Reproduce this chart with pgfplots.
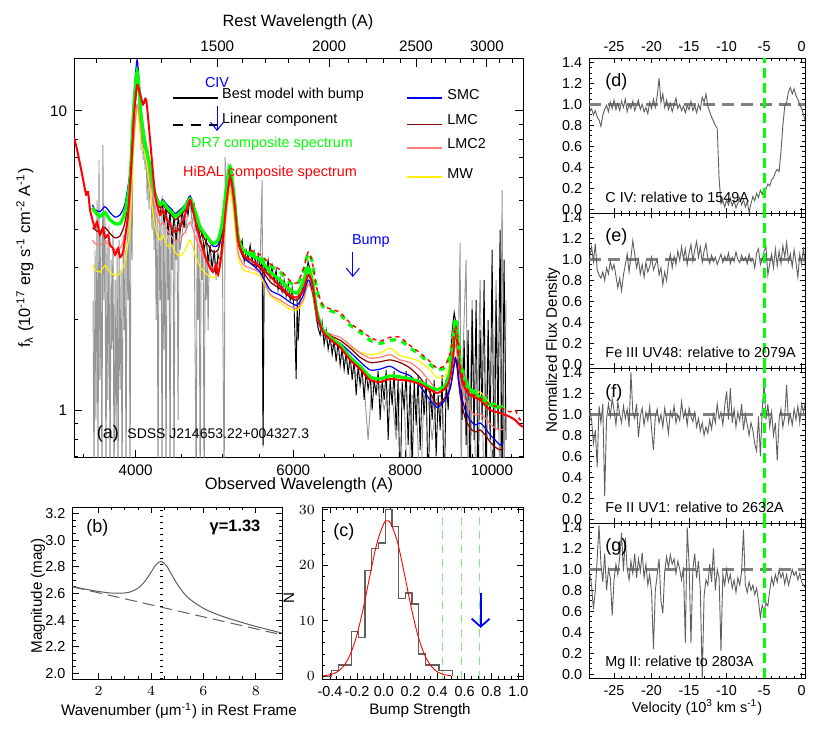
\documentclass[border=0pt]{standalone}
\usepackage{fontspec}
\setmainfont{Liberation Sans}
\usepackage{pgfplots}
\pgfplotsset{compat=1.18}
\usetikzlibrary{arrows.meta}
\definecolor{pgreen}{RGB}{0,255,0}
\definecolor{pred}{RGB}{255,0,0}
\definecolor{pblue}{RGB}{0,0,255}
\definecolor{lmcred}{RGB}{135,0,0}
\definecolor{lmctwo}{RGB}{255,125,125}
\definecolor{mwyel}{RGB}{255,240,0}
\definecolor{specgray}{RGB}{150,150,150}
\definecolor{pgray}{RGB}{95,95,95}
\definecolor{lgreen}{RGB}{130,235,130}
\newcommand{\fs}{\fontsize{7.2}{8.6}\selectfont}
\newcommand{\fsa}{\fontsize{8.2}{9.6}\selectfont}
\newcommand{\fst}{\fontsize{7.6}{9}\selectfont}
\pgfplotsset{
  myax/.style={
    scale only axis, anchor=south west,
    tick align=inside,
    axis line style={line width=0.5pt},
    every tick/.style={black, line width=0.45pt},
    tick label style={font=\fs},
    major tick length=3pt, minor tick length=1.5pt,
  },
  velax/.style={myax, width=107.85pt, height=77.5pt,
    xmin=-28.3, xmax=0.45, ymin=-0.04, ymax=1.44,
    xtick={-25,-20,-15,-10,-5,0}, minor x tick num=4,
    ytick={0,0.2,0.4,0.6,0.8,1.0,1.2,1.4},
    yticklabels={0.0,0.2,0.4,0.6,0.8,1.0,1.2,1.4},
    minor y tick num=3, major tick length=2.5pt, minor tick length=1.3pt,
    xtick pos=both, ytick pos=both},
}
\begin{document}
\begin{tikzpicture}
\fill[white] (0,0) rectangle (415pt,369pt);
\useasboundingbox (0,0) rectangle (415pt,369pt);

% ---------------- panel (a) ----------------
\begin{axis}[myax, at={(37pt,140pt)}, width=224.5pt, height=199.5pt,
  xmode=log, ymode=log, xmin=3415, xmax=10831, ymin=0.691, ymax=14.9,
  xtick={4000,6000,8000,10000}, xticklabels={4000,6000,8000,10000},
  minor xtick={3500,4500,5000,5500,6500,7000,7500,8500,9000,9500,10500},
  ytick={1,10}, yticklabels={1,10},
  minor ytick={0.7,0.8,0.9,2,3,4,5,6,7,8,9},
  xtick pos=left, ytick pos=both, tick label style={font=\fst},
  major tick length=4pt, minor tick length=2pt]
% observed spectrum, grey
\addplot[specgray, line width=0.45pt] table {
x y
3586 2.33
3595 0.5
3604 3.43
3613 0.926
3623 5.04
3632 0.5
3641 6.86
3650 1.26
3659 4.00
3669 0.5
3678 7.70
3688 2.33
3698 4.67
3707 0.5
3717 3.70
3726 1.08
3736 4.16
3746 0.5
3756 3.18
3765 1.59
3775 4.00
3785 0.5
3795 2.72
3805 0.794
3815 3.43
3824 0.5
3834 3.70
3844 1.17
3854 2.94
3864 0.5
3874 3.85
3884 1.85
3894 3.43
3904 0.5
3914 4.49
3924 2.33
3934 5.04
3944 0.5
3954 6.35
3965 3.18
3975 9.70
3985 8.00
3995 12.22
4006 10.88
4016 14.6
4026 11.76
4037 10.08
4047 10.88
4057 7.41
4068 9.33
4078 6.86
4089 8.64
4099 6.35
4110 7.70
4120 5.04
4131 7.41
4141 4.67
4152 6.60
4173 4.00
4184 5.88
4195 3.43
4206 5.24
4217 2.00
4228 4.85
4238 0.5
4249 4.67
4260 2.33
4271 4.49
4282 0.5
4293 4.85
4304 1.59
4315 4.60
4326 0.5
4337 4.32
4349 2.33
4360 4.49
4371 0.5
4382 4.16
4393 2.94
4405 4.25
4416 0.5
4427 4.00
4439 3.18
4450 4.16
4462 0.926
4473 4.32
4485 3.43
4508 3.85
4531 4.49
4555 4.00
4578 4.85
4602 5.04
4626 4.16
4650 4.67
4674 0.5
4686 4.16
4698 2.00
4710 3.85
4722 0.5
4734 3.70
4747 2.72
4759 3.56
4771 0.5
4783 3.43
4796 2.33
4808 3.30
4820 1.85
4833 3.23
4845 3.18
4870 2.94
4895 3.43
4920 2.72
4945 3.43
4971 3.70
4997 4.32
5023 0.5
5036 7.0
5049 5.44
5075 6.60
5101 6.11
5127 5.04
5154 4.67
5181 4.00
5207 3.56
5234 3.43
5288 3.25
5342 3.13
5398 3.38
5454 3.06
5510 3.13
5538 5.88
5552 0.75
5567 3.06
5624 2.99
5682 2.83
5741 2.72
5800 2.62
5860 2.52
5922 2.42
5983 2.33
6045 2.33
6107 2.52
6170 2.83
6234 3.06
6298 2.62
6364 2.00
6429 1.78
6495 1.78
6563 1.65
6631 1.65
6699 1.53
6768 1.53
6838 1.47
6909 1.41
6981 1.36
7053 1.31
7125 1.26
7199 1.21
7273 0.794
7349 1.26
7424 1.17
7502 1.21
7580 1.00
7658 1.17
7737 1.12
7816 0.794
7897 1.17
7979 1.08
8061 0.5
8145 1.12
8229 1.08
8314 0.5
8400 1.17
8487 1.08
8575 0.794
8663 1.08
8753 1.12
8843 1.08
8935 1.26
9027 1.71
9097 2.00
9167 1.59
9214 3.61
9238 0.5
9261 1.26
9357 3.18
9405 0.5
9502 2.33
9600 0.5
9699 2.72
9799 0.5
9901 1.85
10003 0.5
10105 2.72
10210 0.5
10263 5.44
10315 0.5
10368 2.33
};
% observed spectrum, black
\addplot[black, line width=0.45pt] table {
x y
4260 4.49
4282 5.04
4304 4.16
4326 4.85
4349 3.85
4371 4.67
4393 3.56
4416 4.49
4439 3.70
4462 4.39
4485 3.94
4508 4.67
4531 4.06
4555 4.85
4578 4.49
4602 5.12
4626 4.60
4650 4.85
4674 4.00
4698 4.25
4722 3.70
4747 3.94
4771 3.43
4796 3.76
4820 3.13
4845 3.56
4870 2.94
4895 3.43
4920 2.83
4945 3.30
4971 3.13
4997 3.70
5023 4.32
5049 5.04
5075 5.88
5101 6.35
5127 5.66
5154 5.04
5181 4.49
5207 3.94
5234 3.48
5261 3.70
5288 3.13
5315 3.43
5342 3.23
5370 3.56
5398 3.13
5426 3.38
5454 2.99
5482 3.30
5510 2.94
5538 3.23
5552 0.764
5567 3.13
5595 2.89
5624 3.18
5653 2.76
5682 3.04
5712 2.68
5741 2.94
5770 2.52
5800 2.76
5830 2.48
5860 2.72
5891 2.40
5922 2.64
5952 2.33
5983 2.56
6014 2.16
6045 1.27
6060 2.33
6076 1.71
6107 2.40
6138 2.52
6170 2.72
6202 2.89
6234 3.13
6266 2.94
6298 2.62
6331 2.33
6364 2.08
6396 1.88
6429 1.78
6462 1.97
6495 1.65
6529 1.85
6563 1.59
6597 1.76
6631 1.53
6665 1.71
6699 1.45
6733 1.69
6768 1.41
6803 1.61
6838 1.36
6873 1.56
6909 1.31
6945 1.52
6981 1.26
7017 1.47
7053 1.12
7089 1.41
7125 1.21
7162 1.38
7199 1.08
7236 1.35
7273 1.17
7311 1.31
7349 1.00
7387 1.27
7424 1.12
7463 1.35
7502 0.926
7541 1.26
7580 1.08
7619 1.36
7658 0.794
7697 1.27
7737 1.04
7777 1.35
7816 0.857
7856 1.26
7897 0.5
7938 1.24
7979 1.00
8020 1.35
8061 0.764
8103 1.27
8145 0.62
8187 1.26
8229 0.891
8271 1.31
8314 0.735
8357 1.21
8400 0.962
8443 1.27
8487 0.5
8531 1.19
8575 0.926
8619 1.26
8663 0.70
8708 1.12
8753 0.857
8798 1.31
8843 0.5
8889 1.26
8935 1.00
8981 1.47
9027 1.85
9074 2.12
9120 1.92
9167 1.26
9214 1.59
9261 0.926
9309 1.71
9357 0.764
9405 1.85
9453 0.5
9502 2.16
9550 0.794
9600 2.33
9649 0.5
9699 1.85
9749 0.926
9799 2.72
9850 0.5
9901 2.00
9952 0.794
10003 3.43
10055 0.5
10105 2.33
10157 0.857
10210 4.00
10263 0.5
10315 3.18
10368 0.794
};
% MW
\addplot[mwyel, line width=0.6pt, smooth, tension=0.4] table {
x y
3581 3.06
3604 2.94
3650 2.89
3698 3.04
3746 2.89
3795 2.81
3844 2.86
3894 3.13
3944 4.16
3975 6.86
4016 10.3
4057 7.7
4099 7.2
4152 5.44
4206 4.07
4260 3.70
4293 3.85
4337 3.53
4393 3.56
4427 3.37
4485 3.27
4543 3.43
4602 3.70
4662 3.30
4722 3.01
4808 2.83
4882 2.77
4945 2.86
4997 3.30
5049 4.41
5101 5.44
5154 4.32
5207 3.24
5275 2.94
5370 2.89
5510 2.80
5653 2.41
5800 2.29
5952 2.17
6060 2.16
6154 2.29
6234 2.62
6298 2.46
6380 2.03
6479 1.85
6648 1.75
6768 1.71
6945 1.62
7125 1.56
7311 1.53
7502 1.55
7697 1.61
7897 1.52
8103 1.49
8314 1.45
8531 1.36
8686 1.28
8866 1.30
8981 1.45
9051 1.71
9097 1.92
9143 1.78
9214 1.41
9333 1.24
9453 1.17
9575 1.14
9699 1.15
9824 1.10
9952 1.05
10081 1.04
10210 1.02
10289 1.02
};
% LMC2
\addplot[lmctwo, line width=0.6pt, smooth, tension=0.4] table {
x y
3581 3.70
3604 3.60
3650 3.56
3698 3.67
3746 3.53
3795 3.43
3844 3.47
3894 3.85
3944 5.04
3975 7.41
4016 10.5
4057 8.64
4099 8.0
4152 6.05
4206 4.67
4260 4.16
4293 4.25
4337 4.00
4393 3.79
4427 3.64
4485 3.76
4543 3.93
4602 4.25
4662 3.82
4722 3.43
4808 3.13
4882 2.98
4945 3.06
4997 3.47
5049 4.67
5101 5.77
5154 4.60
5207 3.37
5275 3.06
5370 2.98
5510 2.86
5653 2.44
5800 2.33
5952 2.22
6060 2.19
6154 2.33
6234 2.64
6298 2.49
6380 2.03
6479 1.85
6648 1.78
6768 1.75
6945 1.65
7125 1.55
7311 1.49
7502 1.50
7697 1.53
7897 1.47
8103 1.44
8314 1.36
8531 1.24
8686 1.17
8866 1.21
8981 1.31
9051 1.49
9097 1.65
9143 1.56
9214 1.26
9333 1.08
9453 1.00
9575 0.962
9699 0.97
9824 0.94
9952 0.898
10081 0.870
10210 0.857
10289 0.864
};
% LMC
\addplot[lmcred, line width=0.6pt, smooth, tension=0.4] table {
x y
3581 4.07
3604 4.00
3650 3.93
3698 4.07
3746 3.89
3795 3.76
3844 3.82
3894 4.25
3944 5.66
3975 9.33
4016 13.9
4057 9.8
4099 7.8
4152 6.45
4206 5.16
4260 4.74
4293 4.85
4337 4.63
4393 4.45
4427 4.32
4485 4.45
4543 4.67
4602 5.0
4662 4.53
4722 4.00
4808 3.60
4882 3.37
4945 3.43
4997 3.93
5049 5.20
5101 6.25
5154 4.96
5207 3.64
5275 3.24
5370 3.10
5510 2.98
5653 2.68
5800 2.54
5952 2.38
6060 2.33
6154 2.49
6234 2.81
6298 2.62
6380 2.08
6479 1.85
6648 1.75
6768 1.71
6945 1.61
7125 1.50
7311 1.44
7502 1.45
7697 1.47
7897 1.44
8103 1.38
8314 1.28
8531 1.14
8686 1.04
8866 1.10
8981 1.18
9051 1.34
9097 1.47
9143 1.38
9214 1.12
9333 0.94
9453 0.870
9575 0.844
9699 0.857
9824 0.825
9952 0.782
10081 0.752
10210 0.735
10289 0.746
};
% SMC
\addplot[pblue, line width=0.6pt, smooth, tension=0.4] table {
x y
3581 4.85
3604 4.67
3650 4.60
3698 4.78
3746 4.57
3795 4.41
3844 4.49
3894 4.90
3944 6.35
3975 10.1
4016 14.8
4057 10.1
4099 8.0
4152 6.6
4206 5.36
4260 4.90
4293 5.04
4337 4.85
4393 4.67
4427 4.53
4485 4.67
4543 4.85
4602 5.19
4662 4.67
4722 4.16
4808 3.76
4882 3.53
4945 3.56
4997 4.07
5049 5.36
5101 6.35
5154 5.04
5207 3.70
5275 3.30
5370 3.10
5510 2.89
5653 2.52
5800 2.42
5952 2.29
6060 2.24
6154 2.41
6234 2.72
6298 2.52
6380 2.03
6479 1.81
6648 1.71
6768 1.67
6945 1.56
7125 1.45
7311 1.36
7502 1.37
7697 1.40
7897 1.34
8103 1.30
8314 1.20
8531 1.08
8686 1.02
8866 1.08
8981 1.18
9051 1.36
9097 1.50
9143 1.41
9214 1.17
9333 1.00
9453 0.926
9575 0.891
9699 0.905
9824 0.870
9952 0.825
10081 0.794
10210 0.764
10289 0.778
};
% DR7 best model
\addplot[pgreen, line width=1.6pt, smooth, tension=0.4] table {
x y
3581 4.74
3604 4.60
3650 4.43
3698 4.57
3746 4.32
3795 4.20
3844 4.20
3894 4.60
3944 5.88
3975 9.33
4016 13.5
4057 9.7
4099 7.8
4152 6.5
4206 5.24
4260 4.85
4293 4.96
4337 4.74
4393 4.57
4427 4.43
4485 4.57
4543 4.78
4602 5.08
4662 4.60
4722 4.09
4808 3.79
4882 3.60
4945 3.70
4997 4.20
5049 5.44
5101 6.5
5154 5.16
5207 3.79
5275 3.43
5370 3.30
5510 3.18
5653 2.89
5800 2.72
5952 2.52
6060 2.46
6154 2.66
6234 2.98
6298 2.72
6380 2.11
6479 1.85
6648 1.71
6768 1.65
6945 1.50
7125 1.40
7311 1.29
7502 1.27
7697 1.30
7897 1.29
8103 1.27
8314 1.24
8531 1.19
8686 1.17
8866 1.21
8981 1.36
9051 1.65
9097 1.97
9143 1.85
9214 1.41
9333 1.24
9453 1.17
9699 1.10
9952 1.04
10210 1.02
10289 1.03
};
% HiBAL best model
\addplot[pred, line width=1.0pt, smooth, tension=0.4] table {
x y
3415 8.12
3442 7.41
3469 6.6
3496 5.88
3523 5.24
3540 5.36
3558 4.67
3586 4.25
3604 4.07
3623 4.25
3650 3.85
3678 4.07
3698 3.76
3727 3.85
3746 3.56
3775 3.47
3795 3.30
3824 3.47
3844 3.24
3874 3.37
3894 3.76
3924 4.49
3954 6.35
3985 9.7
4016 12.2
4047 11.4
4078 10.5
4110 10.9
4152 8.0
4206 5.24
4260 4.49
4293 4.67
4337 4.32
4393 4.07
4427 3.93
4485 4.07
4543 4.49
4602 5.04
4662 4.32
4722 3.70
4808 3.13
4882 2.89
4920 3.06
4945 2.83
4997 3.43
5049 4.85
5101 6.0
5154 5.04
5207 3.70
5275 3.30
5370 3.18
5510 3.01
5653 2.80
5800 2.58
5952 2.41
6060 2.38
6154 2.52
6234 2.83
6298 2.66
6380 2.08
6479 1.82
6648 1.69
6768 1.62
6945 1.47
7125 1.37
7311 1.26
7502 1.24
7697 1.27
7897 1.26
8103 1.25
8314 1.22
8531 1.17
8686 1.14
8866 1.18
8981 1.28
9051 1.53
9097 1.82
9143 1.71
9214 1.34
9333 1.18
9453 1.12
9699 1.08
9952 1.00
10210 0.977
10476 0.948
10611 0.926
10748 0.891
10831 0.877
};
% DR7 linear component
\addplot[pgreen, line width=1.6pt, dash pattern=on 3pt off 3pt, smooth, tension=0.4] table {
x y
5370 3.37
5510 3.24
5653 3.04
5800 2.89
5952 2.66
6060 2.62
6154 2.89
6234 3.34
6298 3.13
6380 2.49
6479 2.21
6648 2.13
6768 2.09
6945 1.92
7125 1.82
7311 1.71
7502 1.67
7697 1.71
7897 1.71
8103 1.61
8314 1.53
8531 1.42
8686 1.36
8866 1.39
8981 1.53
9051 1.78
9097 2.03
9143 1.89
9214 1.45
9333 1.26
9453 1.18
9699 1.12
9952 1.05
10210 1.04
10289 1.04
};
% HiBAL linear component
\addplot[pred, line width=0.7pt, dash pattern=on 2pt off 2pt, smooth, tension=0.4] table {
x y
5370 3.43
5510 3.30
5653 3.08
5800 2.94
5952 2.70
6060 2.66
6154 2.94
6234 3.37
6298 3.13
6380 2.52
6479 2.24
6648 2.16
6768 2.12
6945 1.95
7125 1.85
7311 1.75
7502 1.70
7697 1.75
7897 1.75
8103 1.64
8314 1.55
8531 1.45
8686 1.38
8866 1.41
8981 1.55
9051 1.73
9097 1.92
9143 1.81
9214 1.41
9333 1.22
9453 1.14
9699 1.10
9952 1.04
10210 1.02
10476 0.985
10611 1.00
10748 0.926
10831 0.94
};
% legend and annotations
\draw[black, line width=0.9pt] (rel axis cs:0.2205,0.9015) -- (rel axis cs:0.3207,0.9015);
\node[anchor=west, font=\fs, inner sep=0pt] at (rel axis cs:0.329,0.9115) {Best model with bump};
\draw[black, line width=0.9pt, dash pattern=on 5pt off 4pt] (rel axis cs:0.2205,0.834) -- (rel axis cs:0.3207,0.834);
\node[anchor=west, font=\fs, inner sep=0pt] at (rel axis cs:0.329,0.847) {Linear component};
\node[pgreen, font=\fs, inner sep=0pt] at (rel axis cs:0.441,0.787) {DR7 composite spectrum};
\node[pred, font=\fs, inner sep=0pt] at (rel axis cs:0.4365,0.714) {HiBAL composite spectrum};
\draw[pblue, line width=0.8pt] (rel axis cs:0.7416,0.9015) -- (rel axis cs:0.8196,0.9015);
\draw[lmcred, line width=0.8pt] (rel axis cs:0.7416,0.836) -- (rel axis cs:0.8196,0.836);
\draw[lmctwo, line width=0.8pt] (rel axis cs:0.7416,0.777) -- (rel axis cs:0.8196,0.777);
\draw[mwyel, line width=0.8pt] (rel axis cs:0.7416,0.704) -- (rel axis cs:0.8196,0.704);
\node[anchor=west, font=\fs, inner sep=0pt] at (rel axis cs:0.8307,0.9115) {SMC};
\node[anchor=west, font=\fs, inner sep=0pt] at (rel axis cs:0.8307,0.847) {LMC};
\node[anchor=west, font=\fs, inner sep=0pt] at (rel axis cs:0.8307,0.787) {LMC2};
\node[anchor=west, font=\fs, inner sep=0pt] at (rel axis cs:0.8307,0.714) {MW};
\node[pblue, font=\fs, inner sep=0pt] at (rel axis cs:0.3185,0.942) {CIV};
\draw[pblue, line width=0.5pt, -{Straight Barb[length=4pt,width=6.5pt]}] (rel axis cs:0.3185,0.882) -- (rel axis cs:0.3185,0.8195);
\node[pblue, font=\fs, inner sep=0pt] at (rel axis cs:0.661,0.544) {Bump};
\draw[pblue, line width=0.5pt, -{Straight Barb[length=4pt,width=6.5pt]}] (rel axis cs:0.621,0.516) -- (rel axis cs:0.621,0.4536);
\node[anchor=west, font=\fontsize{9}{10}\selectfont, inner sep=0pt] at (rel axis cs:0.05,0.06) {(a)};
\node[anchor=west, font=\fontsize{7}{8}\selectfont, inner sep=0pt] at (rel axis cs:0.118,0.06) {SDSS J214653.22+004327.3};
\end{axis}

% top axis: rest wavelength
\begin{axis}[myax, at={(37pt,140pt)}, width=224.5pt, height=199.5pt,
  xmode=log, xmin=1038, xmax=3292, ymin=0, ymax=1, hide y axis,
  xtick={1500,2000,2500,3000}, xticklabels={1500,2000,2500,3000},
  minor xtick={1100,1200,1300,1400,1600,1700,1800,1900,2100,2200,2300,2400,2600,2700,2800,2900,3100,3200},
  xtick pos=right, xticklabel pos=right, tick label style={font=\fst},
  major tick length=4pt, minor tick length=2pt]
\addplot[draw=none] coordinates {(1500,0.5)};
\end{axis}

% ---------------- panel (b) ----------------
\begin{axis}[myax, at={(36.25pt,29.25pt)}, width=104.75pt, height=86pt,
  xmin=1, xmax=9, ymin=1.955, ymax=3.245,
  xtick={2,4,6,8}, minor x tick num=3,
  ytick={2,2.2,2.4,2.6,2.8,3.0,3.2}, yticklabels={2.0,2.2,2.4,2.6,2.8,3.0,3.2},
  minor y tick num=3, xtick pos=both, ytick pos=both]
\addplot[pgray, line width=0.5pt, smooth] coordinates {
(1,2.652) (1.5,2.632) (2,2.615) (2.5,2.603) (3,2.604) (3.25,2.615) (3.5,2.640)
(3.75,2.687) (4,2.760) (4.2,2.819) (4.4,2.840) (4.6,2.804) (4.8,2.737) (5,2.670)
(5.25,2.603) (5.5,2.554) (6,2.489) (6.5,2.445) (7,2.411) (7.5,2.381) (8,2.353)
(8.5,2.328) (9,2.303)};
\addplot[pgray, line width=0.5pt, dash pattern=on 6pt off 3pt] coordinates {(1,2.65) (9,2.29)};
\addplot[black, line width=1.1pt, dash pattern=on 0.9pt off 2.1pt] coordinates {(4.4,1.955) (4.4,3.245)};
\node[anchor=west, font=\fontsize{9}{10}\selectfont, inner sep=0pt] at (rel axis cs:0.064,0.881) {(b)};
\node[anchor=west, font=\bfseries\fontsize{8.2}{9}\selectfont, inner sep=0pt] at (rel axis cs:0.653,0.881) {γ=1.33};
\end{axis}

% ---------------- panel (c) ----------------
\begin{axis}[myax, at={(161pt,29.25pt)}, width=100.5pt, height=86pt,
  xmin=-0.46, xmax=1.035, ymin=-0.6, ymax=30.4,
  xtick={-0.4,-0.2,0,0.2,0.4,0.6,0.8,1.0},
  xticklabels={-0.4,-0.2,0.0,0.2,0.4,0.6,0.8,1.0},
  minor x tick num=3, ytick={0,10,20,30}, minor y tick num=4,
  xtick pos=both, ytick pos=both]
\addplot[lgreen, line width=0.5pt, dash pattern=on 4pt off 3pt] coordinates {(0.438,-0.6) (0.438,30.4)};
\addplot[lgreen, line width=0.5pt, dash pattern=on 4pt off 3pt] coordinates {(0.574,-0.6) (0.574,30.4)};
\addplot[lgreen, line width=0.5pt, dash pattern=on 4pt off 3pt] coordinates {(0.708,-0.6) (0.708,30.4)};
\addplot[pgray, line width=0.6pt, const plot] coordinates {
(-0.44,0) (-0.39,1) (-0.34,2) (-0.29,2) (-0.24,8) (-0.19,7) (-0.14,19) (-0.09,23)
(-0.04,24) (0.01,30) (0.06,27) (0.11,14) (0.16,15) (0.21,13) (0.26,4) (0.31,2)
(0.36,2) (0.41,1) (0.46,1) (0.51,0)};
\addplot[pred, line width=0.45pt, smooth] coordinates {
(-0.45,0.08) (-0.40,0.26) (-0.35,0.72) (-0.30,1.79) (-0.25,3.90) (-0.20,7.47)
(-0.15,12.56) (-0.10,18.57) (-0.05,24.11) (0.00,27.52) (0.026,28.0) (0.05,27.59)
(0.10,24.30) (0.15,18.81) (0.20,12.79) (0.25,7.64) (0.30,4.01) (0.35,1.85)
(0.40,0.75) (0.45,0.27) (0.50,0.08)};
\draw[pblue, line width=0.9pt, -{Straight Barb[length=4pt,width=9pt]}] (axis cs:0.72,15) -- (axis cs:0.72,8.7);
\node[anchor=west, font=\fontsize{9}{10}\selectfont, inner sep=0pt] at (rel axis cs:0.055,0.859) {(c)};
\end{axis}

% ---------------- panel (d) ----------------
\begin{axis}[velax, at={(294.65pt,262.35pt)},
  xticklabels={-25,-20,-15,-10,-5,0}, xticklabel pos=right]
\addplot[gray, line width=1.3pt, dash pattern=on 6pt off 3.5pt] coordinates {(-28.3,1) (0.45,1)};
\addplot[pgray, line width=0.45pt] table {
x y
-28.25 0.93
-28.0 0.96
-27.75 0.90
-27.5 0.94
-27.25 0.88
-27.0 0.85
-26.75 0.79
-26.5 0.90
-26.25 0.95
-26.0 0.99
-25.75 0.93
-25.5 1.02
-25.25 0.96
-25.0 1.04
-24.75 0.95
-24.5 1.01
-24.25 0.94
-24.0 1.03
-23.75 0.97
-23.5 1.05
-23.25 0.93
-23.0 1.00
-22.75 0.96
-22.5 1.03
-22.25 0.94
-22.0 0.99
-21.75 1.04
-21.5 0.95
-21.25 1.00
-21.0 0.93
-20.75 0.97
-20.5 0.91
-20.25 1.02
-20.0 0.96
-19.75 1.05
-19.5 0.97
-19.25 1.08
-19.0 1.25
-18.75 1.02
-18.5 1.10
-18.25 0.97
-18.0 1.04
-17.75 0.95
-17.5 1.01
-17.25 0.93
-17.0 0.99
-16.75 1.06
-16.5 0.96
-16.25 1.00
-16.0 0.94
-15.75 0.98
-15.5 0.92
-15.25 0.99
-15.0 0.95
-14.75 1.03
-14.5 0.94
-14.25 0.99
-14.0 0.92
-13.75 1.00
-13.5 0.95
-13.25 1.07
-13.0 1.02
-12.75 1.10
-12.5 0.98
-12.25 0.93
-12.0 0.88
-11.75 0.84
-11.5 0.80
-11.25 0.77
-11.0 0.30
-10.75 0.05
-10.5 0.08
-10.25 0.02
-10.0 0.09
-9.75 0.04
-9.5 0.10
-9.25 0.03
-9.0 0.08
-8.75 0.01
-8.5 0.06
-8.25 0.11
-8.0 0.04
-7.75 0.09
-7.5 0.02
-7.25 0.07
-7.0 -0.03
-6.75 0.05
-6.5 0.12
-6.25 0.08
-6.0 0.15
-5.75 0.11
-5.5 0.18
-5.25 0.14
-5.0 0.20
-4.75 0.19
-4.5 0.24
-4.25 0.22
-4.0 0.28
-3.75 0.30
-3.5 0.35
-3.25 0.38
-3.0 0.36
-2.75 0.55
-2.5 0.80
-2.25 0.98
-2.0 1.02
-1.75 1.12
-1.5 1.16
-1.25 1.10
-1.0 1.15
-0.75 1.08
-0.5 1.05
-0.25 1.00
0.0 0.96
0.25 0.90
0.5 0.84
};
\addplot[pgreen, line width=1.5pt, dash pattern=on 5pt off 2.5pt] coordinates {(-5,-0.04) (-5,1.44)};
\node[anchor=west, font=\fontsize{9}{10}\selectfont, inner sep=0pt] at (rel axis cs:0.073,0.85) {(d)};
\node[anchor=west, font=\fs, inner sep=0pt] at (rel axis cs:0.073,0.10) {C IV: relative to 1549A};
\end{axis}

% ---------------- panel (e) ----------------
\begin{axis}[velax, at={(294.65pt,184.85pt)}, xticklabels={}]
\addplot[gray, line width=1.3pt, dash pattern=on 6pt off 3.5pt] coordinates {(-28.3,1) (0.45,1)};
\addplot[pgray, line width=0.45pt] table {
x y
-28.25 1.02
-28.0 1.12
-27.75 0.98
-27.5 1.15
-27.25 0.90
-27.0 0.85
-26.75 0.82
-26.5 0.88
-26.25 0.80
-26.0 0.92
-25.75 0.86
-25.5 0.98
-25.25 0.90
-25.0 0.95
-24.75 0.84
-24.5 0.73
-24.25 0.82
-24.0 0.70
-23.75 0.85
-23.5 0.95
-23.25 1.05
-23.0 0.88
-22.75 1.02
-22.5 1.18
-22.25 1.05
-22.0 0.92
-21.75 1.00
-21.5 0.86
-21.25 0.95
-21.0 0.83
-20.75 0.97
-20.5 0.88
-20.25 0.93
-20.0 1.02
-19.75 0.90
-19.5 0.95
-19.25 1.00
-19.0 0.85
-18.75 0.92
-18.5 0.76
-18.25 0.88
-18.0 0.80
-17.75 0.96
-17.5 1.05
-17.25 0.92
-17.0 1.03
-16.75 0.95
-16.5 1.08
-16.25 0.99
-16.0 1.12
-15.75 1.00
-15.5 1.10
-15.25 0.95
-15.0 1.06
-14.75 1.14
-14.5 0.98
-14.25 1.09
-14.0 1.17
-13.75 1.02
-13.5 1.12
-13.25 0.97
-13.0 1.08
-12.75 1.15
-12.5 1.01
-12.25 0.96
-12.0 1.04
-11.75 0.98
-11.5 1.02
-11.25 0.95
-11.0 1.00
-10.75 1.05
-10.5 0.97
-10.25 1.03
-10.0 0.99
-9.75 1.06
-9.5 0.96
-9.25 1.02
-9.0 0.98
-8.75 1.07
-8.5 1.00
-8.25 0.97
-8.0 1.04
-7.75 0.99
-7.5 1.02
-7.25 0.96
-7.0 1.05
-6.75 0.98
-6.5 1.01
-6.25 0.92
-6.0 1.06
-5.75 1.10
-5.5 0.95
-5.25 1.00
-5.0 1.08
-4.75 1.12
-4.5 0.85
-4.25 0.96
-4.0 1.05
-3.75 0.92
-3.5 1.10
-3.25 0.94
-3.0 1.08
-2.75 0.96
-2.5 1.13
-2.25 1.02
-2.0 1.16
-1.75 0.98
-1.5 1.05
-1.25 0.93
-1.0 1.09
-0.75 0.97
-0.5 0.83
-0.25 1.05
0.0 0.95
0.25 1.12
0.5 0.92
};
\addplot[pgreen, line width=1.5pt, dash pattern=on 5pt off 2.5pt] coordinates {(-5,-0.04) (-5,1.44)};
\node[anchor=west, font=\fontsize{9}{10}\selectfont, inner sep=0pt] at (rel axis cs:0.073,0.85) {(e)};
\node[anchor=west, font=\fs, inner sep=0pt] at (rel axis cs:0.073,0.10) {Fe III UV48: relative to 2079A};
\end{axis}

% ---------------- panel (f) ----------------
\begin{axis}[velax, at={(294.65pt,107.35pt)}, xticklabels={}]
\addplot[gray, line width=1.3pt, dash pattern=on 6pt off 3.5pt] coordinates {(-28.3,1) (0.45,1)};
\addplot[pgray, line width=0.45pt] table {
x y
-28.25 1.05
-28.0 0.95
-27.75 0.72
-27.5 0.85
-27.25 0.50
-27.0 1.08
-26.75 0.92
-26.5 1.10
-26.25 0.22
-26.0 0.95
-25.75 1.10
-25.5 0.98
-25.25 1.15
-25.0 1.04
-24.75 0.90
-24.5 1.12
-24.25 1.00
-24.0 0.92
-23.75 1.08
-23.5 0.96
-23.25 1.05
-23.0 0.88
-22.75 1.40
-22.5 1.02
-22.25 0.96
-22.0 1.10
-21.75 0.78
-21.5 0.98
-21.25 1.06
-21.0 0.90
-20.75 1.02
-20.5 0.94
-20.25 1.08
-20.0 0.86
-19.75 0.66
-19.5 0.98
-19.25 1.05
-19.0 0.92
-18.75 1.00
-18.5 0.88
-18.25 1.06
-18.0 0.95
-17.75 0.82
-17.5 1.03
-17.25 0.97
-17.0 1.08
-16.75 0.92
-16.5 1.00
-16.25 0.94
-16.0 1.12
-15.75 0.97
-15.5 1.04
-15.25 0.90
-15.0 1.06
-14.75 0.98
-14.5 0.93
-14.25 1.02
-14.0 0.88
-13.75 0.96
-13.5 0.84
-13.25 0.92
-13.0 0.80
-12.75 0.88
-12.5 0.82
-12.25 0.95
-12.0 0.86
-11.75 1.00
-11.5 0.92
-11.25 1.10
-11.0 0.96
-10.75 1.02
-10.5 0.90
-10.25 1.08
-10.0 1.22
-9.75 0.95
-9.5 1.25
-9.25 0.92
-9.0 1.05
-8.75 0.88
-8.5 1.02
-8.25 0.94
-8.0 1.10
-7.75 0.85
-7.5 1.00
-7.25 0.90
-7.0 0.80
-6.75 0.92
-6.5 0.85
-6.25 0.72
-6.0 0.65
-5.75 0.98
-5.5 0.60
-5.25 1.05
-5.0 1.30
-4.75 0.95
-4.5 1.10
-4.25 0.88
-4.0 1.02
-3.75 0.80
-3.5 0.92
-3.25 0.56
-3.0 0.95
-2.75 1.05
-2.5 0.88
-2.25 0.98
-2.0 1.28
-1.75 0.92
-1.5 1.00
-1.25 0.90
-1.0 1.05
-0.75 0.95
-0.5 1.08
-0.25 0.92
0.0 1.10
0.25 1.02
0.5 1.12
};
\addplot[pgreen, line width=1.5pt, dash pattern=on 5pt off 2.5pt] coordinates {(-5,-0.04) (-5,1.44)};
\node[anchor=west, font=\fontsize{9}{10}\selectfont, inner sep=0pt] at (rel axis cs:0.073,0.84) {(f)};
\node[anchor=west, font=\fs, inner sep=0pt] at (rel axis cs:0.073,0.105) {Fe II UV1: relative to 2632A};
\end{axis}

% ---------------- panel (g) ----------------
\begin{axis}[velax, at={(294.65pt,29.85pt)}, xticklabels={-25,-20,-15,-10,-5,0}]
\addplot[gray, line width=1.3pt, dash pattern=on 6pt off 3.5pt] coordinates {(-28.3,1) (0.45,1)};
\addplot[pgray, line width=0.45pt] table {
x y
-28.25 0.95
-28.0 0.85
-27.75 0.62
-27.5 0.80
-27.25 1.10
-27.0 1.42
-26.75 1.05
-26.5 0.88
-26.25 1.15
-26.0 0.80
-25.75 1.00
-25.5 0.92
-25.25 0.56
-25.0 0.90
-24.75 1.05
-24.5 0.95
-24.25 1.12
-24.0 1.35
-23.75 0.98
-23.5 1.30
-23.25 1.00
-23.0 0.90
-22.75 1.08
-22.5 0.96
-22.25 1.15
-22.0 0.92
-21.75 1.10
-21.5 0.98
-21.25 1.16
-21.0 0.92
-20.75 1.05
-20.5 0.85
-20.25 0.95
-20.0 0.78
-19.75 0.24
-19.5 0.80
-19.25 0.95
-19.0 1.10
-18.75 0.70
-18.5 0.58
-18.25 0.98
-18.0 1.12
-17.75 1.02
-17.5 1.14
-17.25 1.05
-17.0 1.10
-16.75 0.96
-16.5 1.08
-16.25 1.00
-16.0 0.90
-15.75 1.02
-15.5 0.30
-15.25 1.40
-15.0 1.05
-14.75 0.30
-14.5 1.00
-14.25 1.15
-14.0 0.92
-13.75 1.08
-13.5 0.80
-13.25 -0.05
-13.0 0.75
-12.75 0.90
-12.5 0.85
-12.25 1.05
-12.0 0.88
-11.75 1.20
-11.5 0.80
-11.25 1.00
-11.0 0.92
-10.75 0.22
-10.5 0.95
-10.25 0.85
-10.0 1.00
-9.75 0.88
-9.5 0.95
-9.25 0.82
-9.0 0.90
-8.75 0.78
-8.5 0.92
-8.25 0.85
-8.0 0.98
-7.75 1.38
-7.5 0.85
-7.25 0.78
-7.0 0.88
-6.75 0.80
-6.5 0.85
-6.25 0.76
-6.0 0.82
-5.75 0.70
-5.5 0.54
-5.25 0.66
-5.0 0.60
-4.75 0.68
-4.5 0.65
-4.25 0.80
-4.0 0.92
-3.75 0.85
-3.5 0.95
-3.25 0.88
-3.0 1.00
-2.75 0.92
-2.5 0.97
-2.25 0.86
-2.0 0.95
-1.75 0.85
-1.5 0.92
-1.25 1.00
-1.0 0.94
-0.75 0.98
-0.5 0.90
-0.25 0.96
0.0 0.88
0.25 0.85
0.5 0.82
};
\addplot[pgreen, line width=1.5pt, dash pattern=on 5pt off 2.5pt] coordinates {(-5,-0.04) (-5,1.44)};
\node[anchor=west, font=\fontsize{9}{10}\selectfont, inner sep=0pt] at (rel axis cs:0.073,0.85) {(g)};
\node[anchor=west, font=\fs, inner sep=0pt] at (rel axis cs:0.073,0.097) {Mg II: relative to 2803A};
\end{axis}

% ---------------- outer labels ----------------
\node[font=\fsa] at (149pt,358pt) {Rest Wavelength (A)};
\node[font=\fsa] at (149.5pt,126.5pt) {Observed Wavelength (A)};
\node[font=\fsa, rotate=90] at (12.5pt,240pt) {f\textsubscript{λ} (10\textsuperscript{-17} erg s\textsuperscript{-1} cm\textsuperscript{-2} A\textsuperscript{-1})};
\node[font=\fst, rotate=90] at (19pt,71pt) {Magnitude (mag)};
\node[font=\fst] at (89.5pt,13.5pt) {Wavenumber (μm\textsuperscript{-1}) in Rest Frame};
\node[font=\fst] at (210pt,13.5pt) {Bump Strength};
\node[font=\fst, rotate=90] at (144.5pt,70pt) {N};
\node[font=\fs] at (348.5pt,15.5pt) {Velocity (10\textsuperscript{3} km s\textsuperscript{-1})};
\node[font=\fst, rotate=90] at (276.5pt,194pt) {Normalized Flux Density};
\end{tikzpicture}
\end{document}
